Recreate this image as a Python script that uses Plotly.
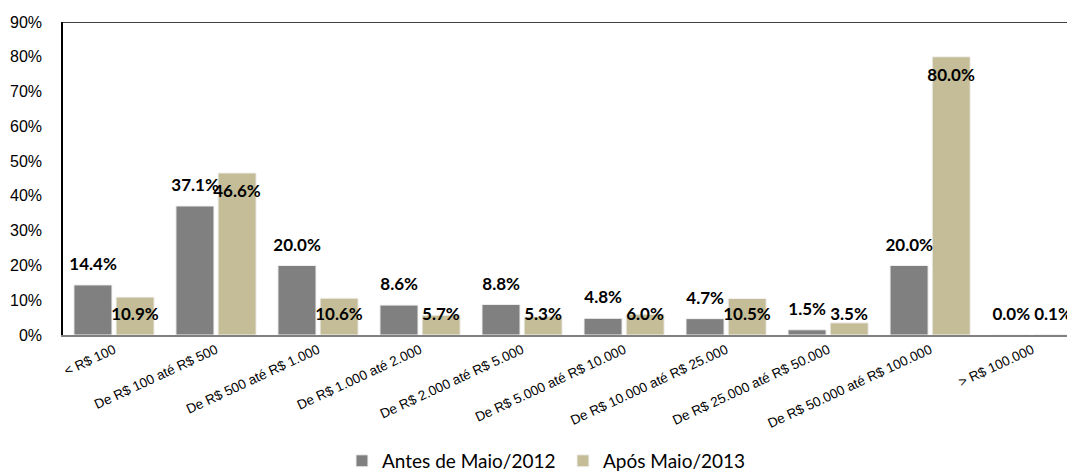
import plotly.graph_objects as go

categories = [
    "< R$ 100",
    "De R$ 100 até R$ 500",
    "De R$ 500 até R$ 1.000",
    "De R$ 1.000 até 2.000",
    "De R$ 2.000 até R$ 5.000",
    "De R$ 5.000 até R$ 10.000",
    "De R$ 10.000 até R$ 25.000",
    "De R$ 25.000 até R$ 50.000",
    "De R$ 50.000 até R$ 100.000",
    "> R$ 100.000",
]
antes = [14.4, 37.1, 20.0, 8.6, 8.8, 4.8, 4.7, 1.5, 20.0, 0.0]
apos = [10.9, 46.6, 10.6, 5.7, 5.3, 6.0, 10.5, 3.5, 80.0, 0.1]
y_ticks = [0, 10, 20, 30, 40, 50, 60, 70, 80, 90]

GRAY = "#808080"
TAN = "#C4BD97"
idx = list(range(len(categories)))
bar_w = 0.373

fig = go.Figure()
fig.add_trace(go.Bar(
    x=idx, y=antes, name="Antes de Maio/2012",
    width=bar_w, offset=-0.393,
    marker=dict(color=GRAY, line=dict(color="#f2f2f2", width=1)),
))
fig.add_trace(go.Bar(
    x=idx, y=apos, name="Após Maio/2013",
    width=bar_w, offset=0.02,
    marker=dict(color=TAN, line=dict(color="#f2f2f2", width=1)),
))

# data labels: grey above the bar, tan just inside the top (kept above the axis)
lbl_font = dict(family="Lato", size=17, color="black", weight="bold")
fig.add_trace(go.Scatter(
    x=[i - 0.205 for i in idx], y=[v + 5.5 for v in antes],
    mode="text", text=[f"{v:.1f}%" for v in antes],
    textfont=lbl_font, showlegend=False, hoverinfo="skip", cliponaxis=False,
))
fig.add_trace(go.Scatter(
    x=[i + 0.205 for i in idx], y=[max(v - 5.8, 5.5) for v in apos],
    mode="text", text=[f"{v:.1f}%" for v in apos],
    textfont=lbl_font, showlegend=False, hoverinfo="skip", cliponaxis=False,
))

# page body has an 8px margin, so the figure is 8px smaller than the window
fig.update_layout(
    width=1067, height=466,
    margin=dict(l=55, r=0, t=14, b=139),
    plot_bgcolor="white", paper_bgcolor="white",
    barmode="overlay",
    showlegend=True,
    legend=dict(
        orientation="h", xref="container", yref="container",
        x=0.313, y=0.028, xanchor="left", yanchor="middle",
        font=dict(family="Lato", size=19, color="black"),
        entrywidth=176, entrywidthmode="pixels",
        traceorder="normal",
    ),
    xaxis=dict(
        range=[-0.5, 9.42],
        tickmode="array", tickvals=idx, ticktext=categories,
        tickangle=-25,
        tickfont=dict(family="Liberation Sans", size=13.5, color="black"),
        showgrid=False, zeroline=False,
        showline=True, linecolor=GRAY, linewidth=2,
        ticks="",
    ),
    yaxis=dict(
        range=[0, 90],
        tickmode="array", tickvals=y_ticks,
        ticktext=[f"{t}%" for t in y_ticks],
        tickfont=dict(family="Liberation Sans", size=16, color="black"),
        ticklabelstandoff=16,
        showgrid=False, zeroline=False,
        showline=True, linecolor="black", linewidth=1.5,
        ticks="",
    ),
    shapes=[dict(
        type="line", xref="paper", yref="y",
        x0=0, x1=1, y0=90, y1=90,
        line=dict(color="black", width=1.5),
    )],
)

fig.write_html("out.html")
